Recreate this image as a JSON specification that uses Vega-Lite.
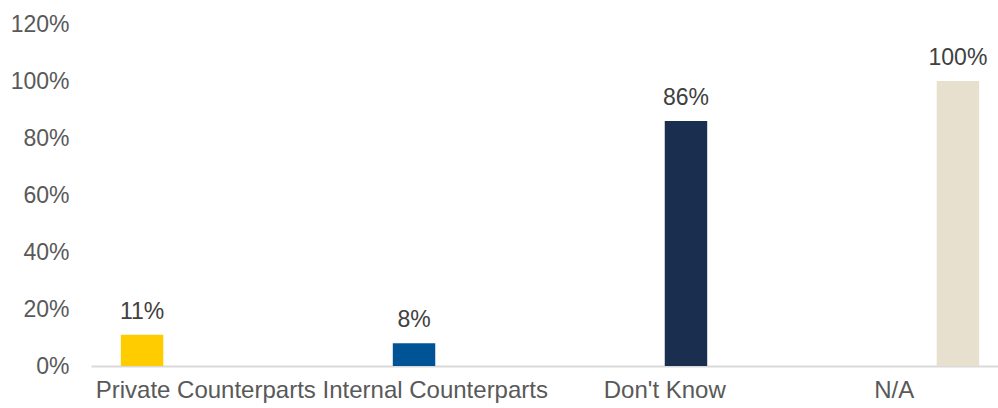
{
  "$schema": "https://vega.github.io/schema/vega-lite/v6.json",
  "autosize": {"type": "none"},
  "width": 907,
  "height": 342,
  "padding": {"left": 91, "top": 24, "right": 0, "bottom": 42},
  "background": "white",
  "config": {
    "view": {"stroke": null},
    "font": "Liberation Sans"
  },
  "data": {
    "values": [
      {"category": "Private Counterparts", "value": 0.11},
      {"category": "Internal Counterparts", "value": 0.08},
      {"category": "Don't Know", "value": 0.86},
      {"category": "N/A", "value": 1.0}
    ]
  },
  "encoding": {
    "x": {
      "field": "category",
      "type": "nominal",
      "sort": null,
      "scale": {"range": [0, 918], "paddingInner": 0.26, "paddingOuter": 0.13},
      "axis": {
        "title": null,
        "labelAngle": 0,
        "labelFontSize": 24,
        "labelColor": "#595959",
        "labelPadding": 12,
        "labelLimit": 0,
        "labelOverlap": false,
        "ticks": false,
        "domainColor": "#D9D9D9",
        "domainWidth": 2,
        "labelFont": "Liberation Sans"
      }
    },
    "xOffset": {
      "field": "category",
      "type": "nominal",
      "sort": null,
      "scale": {"paddingInner": 0, "paddingOuter": 0}
    },
    "y": {
      "field": "value",
      "type": "quantitative",
      "scale": {"domain": [0, 1.2], "nice": false},
      "axis": {
        "title": null,
        "values": [0, 0.2, 0.4, 0.6, 0.8, 1.0, 1.2],
        "format": ".0%",
        "grid": false,
        "domain": false,
        "ticks": false,
        "labelFontSize": 23,
        "labelColor": "#595959",
        "labelPadding": 22,
        "labelFont": "Liberation Sans"
      }
    }
  },
  "layer": [
    {
      "mark": {"type": "bar"},
      "encoding": {
        "color": {
          "field": "category",
          "type": "nominal",
          "sort": null,
          "scale": {
            "domain": ["Private Counterparts", "Internal Counterparts", "Don't Know", "N/A"],
            "range": ["#FFCC00", "#005496", "#1A2E4F", "#E7E0CF"]
          },
          "legend": null
        }
      }
    },
    {
      "mark": {"type": "text", "baseline": "alphabetic", "dy": -16, "fontSize": 23, "color": "#404040", "font": "Liberation Sans"},
      "encoding": {
        "text": {"field": "value", "type": "quantitative", "format": ".0%"}
      }
    }
  ]
}
